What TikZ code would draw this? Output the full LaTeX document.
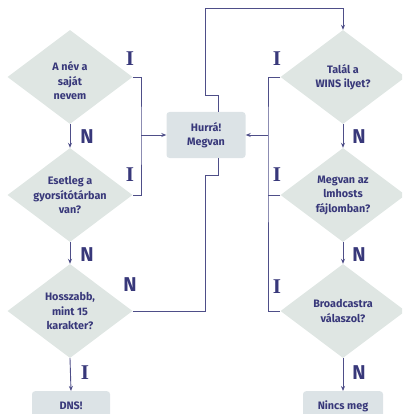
\documentclass[tikz,border=0pt]{standalone}
\usepackage{fontspec}
\setmainfont{Fira Sans}
\newfontfamily\labserif{Liberation Serif}
\usetikzlibrary{shapes.geometric,arrows.meta}
\definecolor{ink}{HTML}{38387A}
\definecolor{lin}{HTML}{4E4E88}
\definecolor{dfill}{HTML}{DFE6E3}
\definecolor{bfill}{HTML}{DCE3E6}
\tikzset{
  x=1pt, y=-1pt,
  dia/.style={diamond, fill=dfill, minimum width=125pt, minimum height=94pt, inner sep=0pt, aspect=1.33,
    text=ink, font=\bfseries\fontsize{10.8}{14.5}\selectfont, align=center},
  rbox/.style={rectangle, rounded corners=3pt, fill=bfill, text=ink, font=\bfseries\fontsize{10.8}{14.5}\selectfont, align=center},
  conn/.style={draw=lin, line width=0.9pt},
  arr/.style={conn, -{Stealth[length=5pt,width=4pt]}},
  lblI/.style={text=ink, font=\labserif\bfseries\fontsize{21}{21}\selectfont, inner sep=0pt},
  lblN/.style={text=ink, font=\bfseries\fontsize{20}{20}\selectfont, inner sep=0pt},
}
\begin{document}
\begin{tikzpicture}
\useasboundingbox (0,0) rectangle (402,414);
\begin{scope}
\clip (0,0) rectangle (402,414);
% left column
\node[dia] (d1) at (70,77) {};
\node[text=ink, font=\bfseries\fontsize{10.8}{14.5}\selectfont, align=center] (d1t) at (70,81) {A név a\\saját\\nevem};
\node[dia] (d2) at (70,195) {Esetleg a\\gyorsítótárban\\van?};
\node[dia] (d3) at (70,311) {Hosszabb,\\mint 15\\karakter?};
\node[rbox, minimum width=78pt, minimum height=40pt, anchor=north] (dns) at (71,391) {};
\node[text=ink, font=\bfseries\fontsize{10.8}{14.5}\selectfont] (dnst) at (71,406) {DNS!};
% right column
\node[dia] (w1) at (343,77) {Talál a\\WINS ilyet?};
\node[dia] (w2) at (343,195) {Megvan az\\lmhosts\\fájlomban?};
\node[dia] (w3) at (343,311) {Broadcastra\\válaszol?};
\node[rbox, minimum width=80pt, minimum height=40pt, anchor=north] (nin) at (343,391) {};
\node[text=ink, font=\bfseries\fontsize{10.8}{14.5}\selectfont] (nint) at (343,406) {Nincs meg};
% center box
\node[rbox, minimum width=79pt, minimum height=46pt] (hur) at (206,135) {Hurrá!\\Megvan};
% coordinates
\coordinate (lb) at (141,135);
\coordinate (rb) at (268,135);
% vertical arrows
\draw[arr] (d1.south) -- (d2.north);
\draw[arr] (d2.south) -- (d3.north);
\draw[arr] (d3.south) -- (dns.north);
\draw[arr] (w1.south) -- (w2.north);
\draw[arr] (w2.south) -- (w3.north);
\draw[arr] (w3.south) -- (nin.north);
% left bracket
\draw[conn] (d1.east) -| (lb) |- (d2.east);
\draw[arr] (lb) -- (hur.west);
% right bracket
\draw[conn] (w1.west) -| (rb) |- (w3.west);
\draw[conn] (w2.west) -- (rb |- w2.west);
\draw[arr] (rb) -- (hur.east);
% long N path
\draw[conn] (d3.east) -- (205,311) -- (205,175) -- (218,175) -- (218,0 |- hur.south);
\draw[arr] (218,0 |- hur.north) -- (218,95) -- (205,95) -- (205,8) -| (w1.north);
% labels
\node[lblI] (i1) at (130,59) {I};
\node[lblI] (i2) at (130,175) {I};
\node[lblN] (n3) at (130,285) {N};
\node[lblN] (n1) at (87,137) {N};
\node[lblN] (n2) at (87,255) {N};
\node[lblI] (i3) at (85,373) {I};
\node[lblI] (i4) at (277,59) {I};
\node[lblI] (i5) at (277,175) {I};
\node[lblI] (i6) at (277,287) {I};
\node[lblN] (n4) at (359,137) {N};
\node[lblN] (n5) at (359,255) {N};
\node[lblN] (n6) at (359,373) {N};
\end{scope}
\end{tikzpicture}
\end{document}
